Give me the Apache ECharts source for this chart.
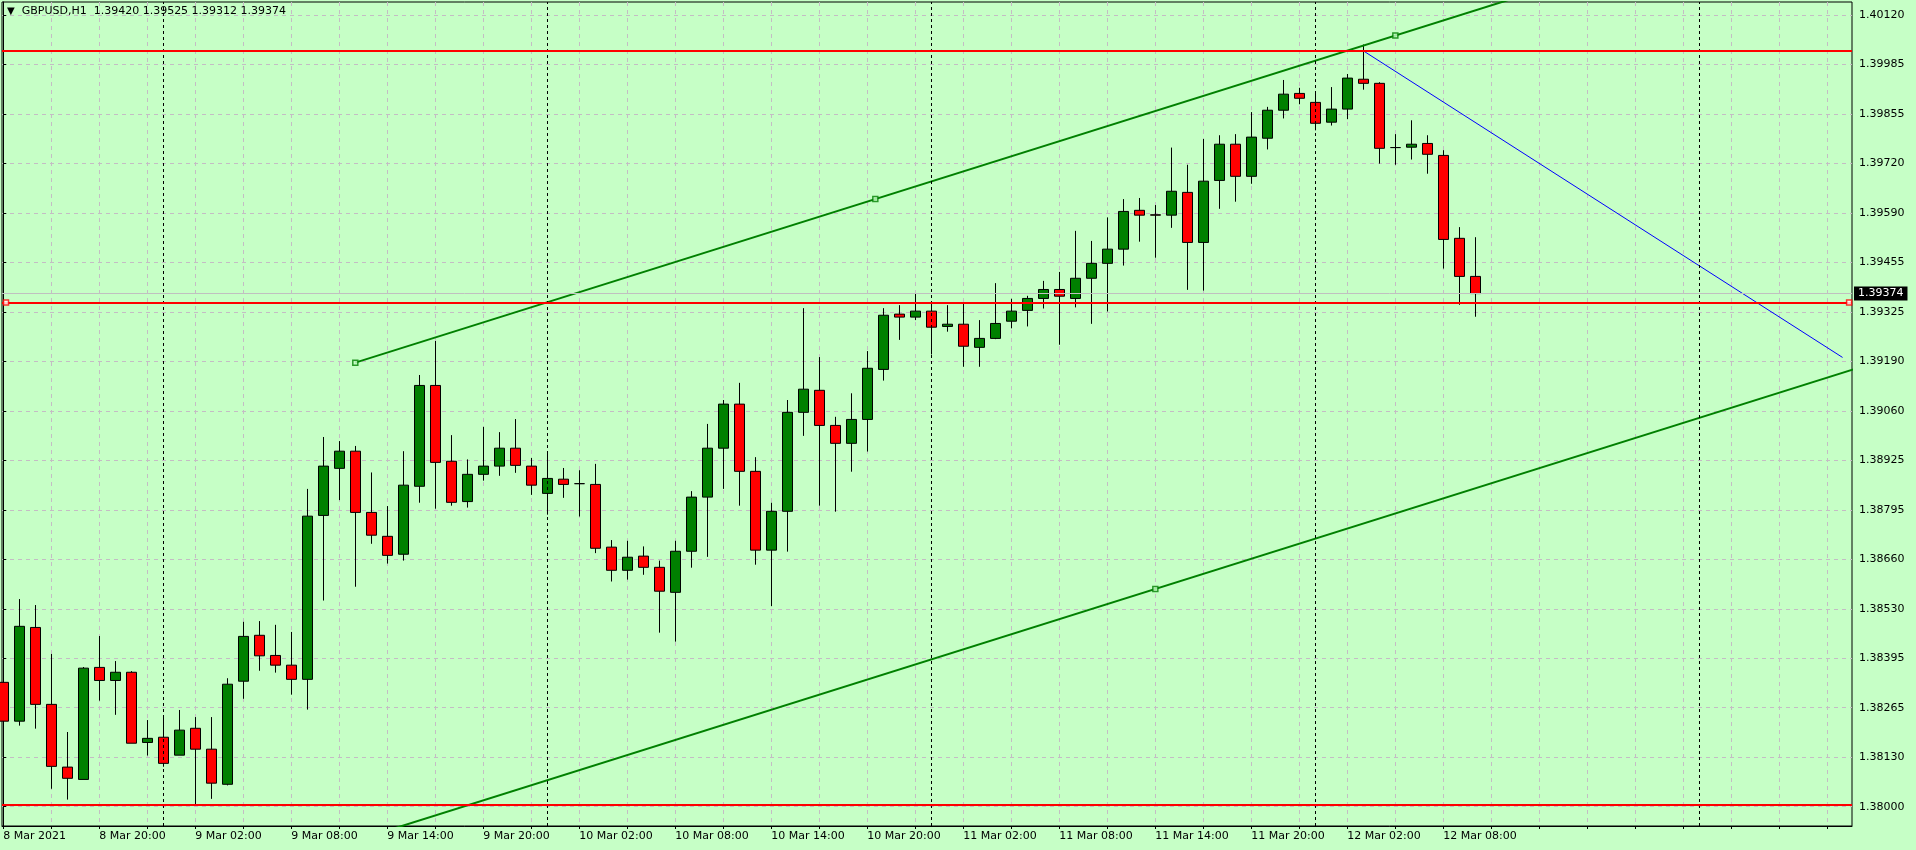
<!DOCTYPE html>
<html><head><meta charset="utf-8">
<script src="https://cdn.jsdelivr.net/npm/echarts@6/dist/echarts.min.js"></script>
<style>html,body{margin:0;padding:0;background:#c6ffc6;}#c{width:1916px;height:850px;}</style>
</head><body><div id="c"></div>
<script>
// ---- data (hourly bars, bar 0 = 8 Mar 2021 14:00) ----
const symbolName = 'GBPUSD,H1';
const opens = [1.38333,1.38229,1.38480,1.38274,1.38106,1.38073,1.38373,1.38338,1.38360,1.38172,
1.38186,1.38138,1.38210,1.38154,1.38060,1.38336,1.38459,1.38405,1.38379,1.38341,
1.38780,1.38906,1.38952,1.38788,1.38724,1.38676,1.38858,1.39128,1.38925,1.38817,
1.38890,1.38912,1.38960,1.38912,1.38839,1.38877,1.38865,1.38863,1.38695,1.38633,
1.38671,1.38641,1.38574,1.38684,1.38829,1.38960,1.39078,1.38898,1.38687,1.38791,
1.39056,1.39115,1.39021,1.38973,1.39037,1.39171,1.39319,1.39311,1.39327,1.39286,
1.39292,1.39230,1.39254,1.39300,1.39329,1.39361,1.39385,1.39361,1.39415,1.39455,
1.39493,1.39597,1.39585,1.39584,1.39645,1.39511,1.39677,1.39774,1.39688,1.39790,
1.39865,1.39910,1.39886,1.39833,1.39868,1.39948,1.39937,1.39765,1.39766,1.39776,
1.39744,1.39522,1.39420];
const highs = [1.38381,1.38556,1.38540,1.38409,1.38200,1.38374,1.38457,1.38390,1.38363,1.38232,
1.38243,1.38259,1.38240,1.38240,1.38344,1.38495,1.38497,1.38487,1.38468,1.38851,
1.38990,1.38979,1.38966,1.38895,1.38805,1.38952,1.39156,1.39247,1.38995,1.38930,
1.39017,1.39003,1.39038,1.38934,1.38952,1.38907,1.38901,1.38918,1.38714,1.38712,
1.38697,1.38659,1.38712,1.38845,1.39025,1.39089,1.39135,1.38936,1.38814,1.39089,
1.39335,1.39204,1.39044,1.39107,1.39220,1.39335,1.39343,1.39373,1.39348,1.39343,
1.39351,1.39303,1.39402,1.39360,1.39368,1.39408,1.39432,1.39542,1.39515,1.39578,
1.39627,1.39630,1.39611,1.39765,1.39719,1.39788,1.39798,1.39801,1.39860,1.39874,
1.39946,1.39925,1.39913,1.39927,1.39962,1.40041,1.39940,1.39801,1.39838,1.39798,
1.39758,1.39552,1.39525];
const lows = [1.38130,1.38217,1.38209,1.38048,1.38019,1.38073,1.38284,1.38246,1.38170,1.38137,
1.38107,1.38138,1.38005,1.38021,1.38057,1.38289,1.38364,1.38359,1.38300,1.38260,
1.38552,1.38821,1.38589,1.38704,1.38651,1.38659,1.38814,1.38798,1.38806,1.38801,
1.38873,1.38886,1.38894,1.38835,1.38782,1.38827,1.38777,1.38679,1.38603,1.38608,
1.38621,1.38466,1.38442,1.38640,1.38669,1.38851,1.38806,1.38648,1.38537,1.38683,
1.38993,1.38806,1.38790,1.38897,1.38951,1.39141,1.39250,1.39303,1.39211,1.39272,
1.39178,1.39178,1.39252,1.39281,1.39286,1.39334,1.39237,1.39337,1.39293,1.39326,
1.39449,1.39513,1.39470,1.39550,1.39384,1.39382,1.39601,1.39620,1.39668,1.39760,
1.39843,1.39881,1.39811,1.39824,1.39841,1.39920,1.39722,1.39719,1.39733,1.39695,
1.39441,1.39344,1.39312];
const closes = [1.38229,1.38483,1.38274,1.38108,1.38076,1.38371,1.38338,1.38360,1.38170,1.38183,
1.38116,1.38205,1.38154,1.38063,1.38328,1.38456,1.38404,1.38379,1.38341,1.38778,
1.38912,1.38952,1.38788,1.38727,1.38673,1.38861,1.39128,1.38922,1.38815,1.38890,
1.38912,1.38960,1.38914,1.38861,1.38879,1.38863,1.38865,1.38692,1.38633,1.38668,
1.38641,1.38577,1.38684,1.38829,1.38960,1.39078,1.38898,1.38687,1.38791,1.39056,
1.39118,1.39021,1.38973,1.39037,1.39174,1.39316,1.39311,1.39327,1.39284,1.39292,
1.39233,1.39254,1.39294,1.39327,1.39361,1.39385,1.39367,1.39415,1.39455,1.39493,
1.39594,1.39584,1.39584,1.39648,1.39511,1.39675,1.39774,1.39688,1.39793,1.39865,
1.39908,1.39897,1.39830,1.39868,1.39951,1.39937,1.39763,1.39765,1.39774,1.39747,
1.39519,1.39420,1.39374];

// x-axis: bar positions of labels, grid lines, day separators
const xLabelIndex = [0,6,12,18,24,30,36,42,48,54,60,66,72,78,84,90];
const xLabels = ['8 Mar 2021','8 Mar 20:00','9 Mar 02:00','9 Mar 08:00','9 Mar 14:00','9 Mar 20:00',
  '10 Mar 02:00','10 Mar 08:00','10 Mar 14:00','10 Mar 20:00','11 Mar 02:00','11 Mar 08:00',
  '11 Mar 14:00','11 Mar 20:00','12 Mar 02:00','12 Mar 08:00'];
const xGridIndex = [0,3,6,9,12,15,18,21,24,27,30,33,36,39,42,45,48,51,54,57,60,63,66,69,72,75,78,81,84,87,90,93,96,99,102,105,108,111,114];
const daySeparators = [10,34,58,82,106];
const xRange = [-0.081, 115.54];

// y-axis ticks and labels
const yTickValues = [1.38,1.381325,1.38265,1.383975,1.3853,1.386625,1.38795,1.389275,1.3906,
  1.391925,1.39325,1.394575,1.3959,1.397225,1.39855,1.399875,1.4012];
const yTickLabels = ['1.38000','1.38130','1.38265','1.38395','1.38530','1.38660','1.38795','1.38925',
  '1.39060','1.39190','1.39325','1.39455','1.39590','1.39720','1.39855','1.39985','1.40120'];
const yRange = [1.379483, 1.401548];

// drawn objects (data coordinates: [bar, price])
const redLevels = [1.40024, 1.39350, 1.38005];
const redMarkers = [[0.17, 1.39350], [115.36, 1.39350]];
const bidPrice = 1.39374;
const channelP1 = [22, 1.39189];
const channelP2 = [87, 1.40065];
const channelP3 = [72, 1.38583];
const blueLine = [[85, 1.40024], [114.95, 1.39203]];

// ---- chart ----
const BG = '#c6ffc6';
const GRIDC = '#c4bcc4';
const FONT = 'DejaVu Sans';
const bars = opens.map((o, i) => [i, o, closes[i], lows[i], highs[i]]);
const last = bars.length - 1;
const slope = (channelP2[1] - channelP1[1]) / (channelP2[0] - channelP1[0]);
const xEnd = 116;
const upperLine = [channelP1, [xEnd, channelP1[1] + slope * (xEnd - channelP1[0])]];
const lowerLine = [[channelP1[0], channelP3[1] + slope * (channelP1[0] - channelP3[0])],
                   [xEnd, channelP3[1] + slope * (xEnd - channelP3[0])]];
const channelMarkers = [channelP1, [(channelP1[0] + channelP2[0]) / 2, (channelP1[1] + channelP2[1]) / 2], channelP2, channelP3];

const chart = echarts.init(document.getElementById('c'));
chart.setOption({
  animation: false,
  backgroundColor: BG,
  title: {
    left: 7, top: 6, padding: 0,
    text: '{t|▼}  ' + symbolName + '  ' + [opens[last], highs[last], lows[last], closes[last]].map(v => v.toFixed(5)).join(' '),
    textStyle: { fontFamily: FONT, fontSize: 11, fontWeight: 'normal', color: '#000',
      rich: { t: { fontSize: 10, fontFamily: FONT, color: '#000' } } }
  },
  grid: { left: 2, right: 64, top: 2, bottom: 24, show: true, backgroundColor: BG, borderColor: '#000', borderWidth: 1 },
  xAxis: {
    type: 'value', min: xRange[0], max: xRange[1],
    axisLine: { show: true, onZero: false, lineStyle: { color: '#000', width: 1 } },
    axisTick: { show: true, customValues: xGridIndex, length: 3, lineStyle: { color: '#000' } },
    axisLabel: { customValues: xLabelIndex, align: 'left', margin: 5, fontFamily: FONT, fontSize: 11, color: '#000',
      formatter: v => { const i = xLabelIndex.indexOf(Math.round(v)); return i >= 0 ? xLabels[i] : ''; } },
    splitLine: { show: true, lineStyle: { color: GRIDC, type: [4, 4], width: 1 } }
  },
  yAxis: {
    type: 'value', position: 'right', min: yRange[0], max: yRange[1], scale: true,
    axisLine: { show: true, lineStyle: { color: '#000', width: 1 } },
    axisTick: { show: true, customValues: yTickValues, length: 3, lineStyle: { color: '#000' } },
    axisLabel: { customValues: yTickValues, margin: 7, fontFamily: FONT, fontSize: 11, color: '#000',
      formatter: v => { let b = 0; yTickValues.forEach((t, i) => { if (Math.abs(t - v) < Math.abs(yTickValues[b] - v)) b = i; }); return yTickLabels[b]; } },
    splitLine: { show: true, lineStyle: { color: GRIDC, type: [4, 4], width: 1 } }
  },
  series: [
    {
      type: 'candlestick', data: bars, barWidth: 10, z: 3,
      encode: { x: 0, y: [1, 2, 3, 4] },
      itemStyle: { color: '#008000', color0: '#ff0000', borderColor: '#000', borderColor0: '#000', borderColorDoji: '#000', borderWidth: 1 }
    },
    { type: 'line', data: upperLine, symbol: 'none', z: 4, lineStyle: { color: '#008000', width: 2 } },
    { type: 'line', data: lowerLine, symbol: 'none', z: 4, lineStyle: { color: '#008000', width: 2 } },
    { type: 'line', data: blueLine, symbol: 'none', z: 4, lineStyle: { color: '#0000ff', width: 1 },
      markLine: {
        silent: true, symbol: 'none', animation: false, precision: 5,
        label: { show: false },
        data: [
          ...daySeparators.map(d => ({ xAxis: d, lineStyle: { color: '#000', type: [3, 3], width: 1 } })),
          { yAxis: bidPrice, lineStyle: { color: '#c0c0c0', type: 'solid', width: 1 },
            label: { show: true, position: 'end', distance: 2, formatter: bidPrice.toFixed(5), color: '#fff',
              backgroundColor: '#000', padding: [2, 4, 1, 4], fontFamily: FONT, fontSize: 11 } },
          ...redLevels.map(p => ({ yAxis: p, lineStyle: { color: '#ff0000', type: 'solid', width: 2 } }))
        ]
      }
    },
    { type: 'scatter', data: channelMarkers, symbol: 'rect', symbolSize: 5, z: 5,
      itemStyle: { color: BG, borderColor: '#008000', borderWidth: 1.5 } },
    { type: 'scatter', data: redMarkers, symbol: 'rect', symbolSize: 5, z: 5,
      itemStyle: { color: '#fff', borderColor: '#ff0000', borderWidth: 1.5 } }
  ]
});
</script></body></html>
